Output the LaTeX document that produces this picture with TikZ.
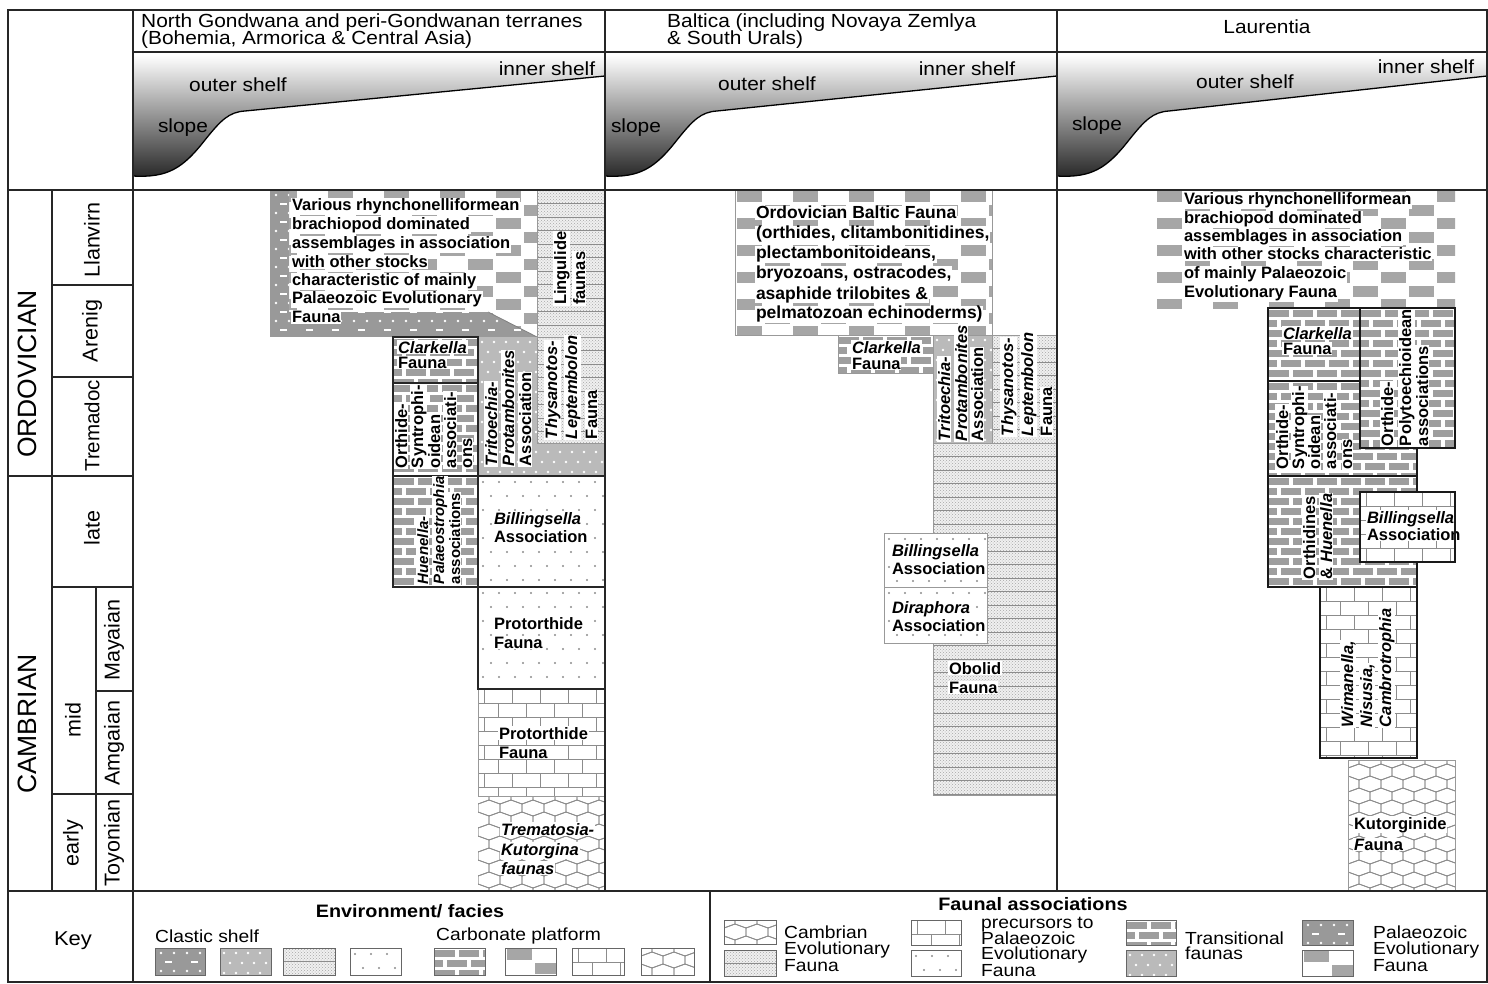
\documentclass[tikz,border=0pt]{standalone}
\usepackage{fontspec}
\setmainfont{Liberation Sans}
\newfontfamily\wfont{Liberation Sans}[FakeStretch=1.1]
\usetikzlibrary{patterns}

% ---------- pattern fills (x1,y1,x2,y2 in px, y downwards) ----------
\newcommand\PBrickGray[4]{%
 \begin{scope}
 \clip (#1,#2) rectangle (#3,#4);
 \fill[white] (#1,#2) rectangle (#3,#4);
 \pgfmathtruncatemacro\NR{(#4-#2)/10+1}%
 \pgfmathtruncatemacro\NC{(#3-#1)/24+2}%
 \foreach \ii in {0,...,\NR}{\foreach \jj in {0,...,\NC}{%
  \fill[black!38] ({#1+\jj*24-mod(\ii,2)*12+1},{#2+\ii*10+2}) rectangle ++(20,7);}}
 \end{scope}}
\newcommand\PBrickWhite[4]{%
 \begin{scope}
 \clip (#1,#2) rectangle (#3,#4);
 \fill[white] (#1,#2) rectangle (#3,#4);
 \pgfmathtruncatemacro\NR{(#4-#2)/14+1}%
 \pgfmathtruncatemacro\NC{(#3-#1)/28+2}%
 \foreach \ii in {0,...,\NR}{%
  \draw[black!45, line width=0.9pt] (#1,{#2+\ii*14}) -- (#3,{#2+\ii*14});
  \foreach \jj in {0,...,\NC}{%
   \draw[black!45, line width=0.9pt] ({#1+\jj*28-mod(\ii,2)*14+6},{#2+\ii*14}) -- ++(0,14);}}
 \end{scope}}
\newcommand\PHex[4]{%
 \begin{scope}
 \clip (#1,#2) rectangle (#3,#4);
 \fill[white] (#1,#2) rectangle (#3,#4);
 \pgfmathtruncatemacro\NR{(#4-#2)/12+2}%
 \pgfmathtruncatemacro\NC{(#3-#1)/22+2}%
 \foreach \ii in {0,...,\NR}{\foreach \jj in {0,...,\NC}{%
  \draw[black!45, line width=0.8pt] ({#1+\jj*22-mod(\ii,2)*11},{#2+\ii*12-8}) -- ++(11,4) -- ++(0,8) -- ++(-11,4) -- ++(-11,-4) -- ++(0,-8) -- cycle;}}
 \end{scope}}
\newcommand\PDotsWhite[4]{%
 \begin{scope}
 \clip (#1,#2) rectangle (#3,#4);
 \fill[white] (#1,#2) rectangle (#3,#4);
 \pgfmathtruncatemacro\NR{(#4-#2)/14+1}%
 \pgfmathtruncatemacro\NC{(#3-#1)/16+1}%
 \foreach \ii in {0,...,\NR}{\foreach \jj in {0,...,\NC}{%
  \fill[black!45] ({#1+\jj*16+mod(\ii,2)*8+5},{#2+\ii*14+6}) circle (1.1);}}
 \end{scope}}
\newcommand\PDotsGray[4]{%
 \begin{scope}
 \clip (#1,#2) rectangle (#3,#4);
 \fill[black!27] (#1,#2) rectangle (#3,#4);
 \pgfmathtruncatemacro\NR{(#4-#2)/10+1}%
 \pgfmathtruncatemacro\NC{(#3-#1)/12+1}%
 \foreach \ii in {0,...,\NR}{\foreach \jj in {0,...,\NC}{%
  \fill[white] ({#1+\jj*12+mod(\ii,2)*6+4},{#2+\ii*10+5}) circle (1.3);}}
 \end{scope}}
\newcommand\PDotsDark[4]{%
 \begin{scope}
 \clip (#1,#2) rectangle (#3,#4);
 \fill[black!40] (#1,#2) rectangle (#3,#4);
 \pgfmathtruncatemacro\NR{(#4-#2)/9+1}%
 \pgfmathtruncatemacro\NC{(#3-#1)/13+1}%
 \foreach \ii in {0,...,\NR}{\foreach \jj in {0,...,\NC}{%
  \pgfmathtruncatemacro\pp{mod(\ii,2)}%
  \ifnum\pp=0
   \fill[white] ({#1+\jj*13+6},{#2+\ii*9+5}) circle (1.3);
  \else
   \ifodd\jj\else
    \fill[white] ({#1+\jj*13+10},{#2+\ii*9+4.2}) rectangle ++(7,1.7);
   \fi
  \fi}}
 \end{scope}}
\newcommand\PStipple[4]{%
 \begin{scope}
 \clip (#1,#2) rectangle (#3,#4);
 \fill[black!6] (#1,#2) rectangle (#3,#4);
 \fill[pattern=crosshatch dots, pattern color=black!35] (#1,#2) rectangle (#3,#4);
 \pgfmathtruncatemacro\NR{(#4-#2)/13.5+1}%
 \foreach \ii in {1,...,\NR}{%
  \draw[black!45, line width=0.9pt] (#1,{#2+\ii*13.5}) -- (#3,{#2+\ii*13.5});}
 \end{scope}}
\newcommand\PChecker[4]{%
 \begin{scope}
 \clip (#1,#2) rectangle (#3,#4);
 \fill[white] (#1,#2) rectangle (#3,#4);
 \pgfmathtruncatemacro\NR{(#4-#2)/13.5+1}%
 \pgfmathtruncatemacro\NC{(#3-#1)/56+1}%
 \foreach \ii in {0,...,\NR}{\foreach \jj in {0,...,\NC}{%
  \fill[black!35] ({#1+\jj*56+mod(\ii,2)*28+1.5},{#2+\ii*13.5+1.2}) rectangle ++(25,11);}}
 \end{scope}}
\newcommand\Profile[2]{%
 \shade[top color=white, middle color=black!22, bottom color=black!85]
  (#1,55) -- (#1,176) .. controls ({#1+35},178) and ({#1+50},168) .. ({#1+72},140)
  .. controls ({#1+88},120) and ({#1+96},112) .. ({#1+112},111) -- (#2,76) -- (#2,55) -- cycle;
 \draw[line width=1.3pt] (#1,176) .. controls ({#1+35},178) and ({#1+50},168) .. ({#1+72},140)
  .. controls ({#1+88},120) and ({#1+96},112) .. ({#1+112},111) -- (#2,76);}

\tikzset{
 frame/.style={draw=black!85, line width=1.4pt},
 bx/.style={draw=black!85, line width=1.3pt},
 bxl/.style={draw=black!90, line width=1.6pt},
 bxg/.style={draw=black!40, line width=1pt},
 sw/.style={draw=black!60, line width=0.8pt},
 bt/.style={font=\bfseries\fontsize{16.5}{18}\selectfont, anchor=base west, inner sep=0.8pt, fill=white},
 bti/.style={bt, font=\bfseries\itshape\fontsize{16.5}{18}\selectfont},
 btb/.style={bt, font=\bfseries\fontsize{17.5}{20}\selectfont},
 rt/.style={bt, rotate=90},
 rti/.style={bti, rotate=90},
 rts/.style={bt, font=\bfseries\fontsize{15}{16}\selectfont, rotate=90},
 rtsi/.style={bt, font=\bfseries\itshape\fontsize{15}{16}\selectfont, rotate=90},
 hd/.style={font=\wfont\fontsize{19}{21}\selectfont, anchor=base west, inner sep=0pt},
 pl/.style={font=\wfont\fontsize{19}{21}\selectfont, anchor=base, inner sep=0pt},
 tl/.style={font=\fontsize{21.5}{24}\selectfont, rotate=90, inner sep=0pt},
 sy/.style={font=\fontsize{26.5}{28}\selectfont, rotate=90, inner sep=0pt},
 kh/.style={font=\wfont\bfseries\fontsize{18}{20}\selectfont, anchor=base, inner sep=0pt},
 kl/.style={font=\wfont\fontsize{17.5}{19}\selectfont, anchor=base west, inner sep=0pt},
}

\begin{document}
\begin{tikzpicture}[x=1pt,y=-1pt]
\useasboundingbox (0,0) rectangle (1488,984);
\fill[white] (0,0) rectangle (1488,984);

% ---------- shelf profiles ----------
\Profile{133}{605}
\Profile{605}{1057}
\Profile{1057}{1487}

% ---------- North Gondwana ----------
\PChecker{270}{190}{537}{337}
\begin{scope}
 \clip (270,190) -- (289,190) -- (289,312) -- (488,312) -- (537,337) -- (270,337) -- cycle;
 \PDotsDark{270}{190}{537}{337}
\end{scope}
\draw[black!50, line width=0.8pt] (488,312) -- (537,337);
\PStipple{537}{190}{605}{337}
\draw[bxg] (537,190) rectangle (605,337);
\PDotsGray{478}{337}{605}{476}
\PStipple{537}{337}{605}{443}
\draw[bxg] (537,337) rectangle (605,443);
\PBrickGray{393}{337}{478}{383}
\PBrickGray{393}{383}{478}{476}
\PBrickGray{393}{476}{478}{587}
\PDotsWhite{478}{476}{605}{587}
\PDotsWhite{478}{587}{605}{689}
\PBrickWhite{478}{689}{605}{796}
\PHex{478}{796}{605}{890}
\draw[bxg] (478,689) rectangle (605,796);
\draw[bx] (393,337) rectangle (478,383);
\draw[bx] (393,383) rectangle (478,476);
\draw[bx] (393,476) rectangle (478,587);
\draw[bx] (478,476) rectangle (605,587);
\draw[bx] (478,587) rectangle (605,689);
\draw[bx] (478,337) -- (478,476);

% ---------- Baltica ----------
\PChecker{735}{190}{992}{335}
\draw[bxg] (735,190) rectangle (992,335);
\PBrickGray{838}{335}{933}{373}
\draw[bxg] (838,335) rectangle (933,373);
\PDotsGray{933}{335}{992}{443}
\draw[bxg] (933,335) rectangle (992,443);
\PStipple{992}{335}{1057}{443}
\draw[bxg] (992,335) rectangle (1057,443);
\PStipple{933}{443}{1057}{795}
\draw[bxg] (933,443) rectangle (1057,795);
\PDotsWhite{884}{533}{987}{587}
\draw[bxg] (884,533) rectangle (987,587);
\PDotsWhite{884}{587}{987}{643}
\draw[bxg] (884,587) rectangle (987,643);

% ---------- Laurentia ----------
\PChecker{1155}{190}{1455}{308}
\PBrickGray{1268}{381}{1417}{476}
\draw[bxl] (1268,381) rectangle (1417,476);
\PBrickGray{1268}{308}{1360}{381}
\draw[bxl] (1268,308) rectangle (1360,381);
\PBrickGray{1360}{308}{1455}{448}
\draw[bxl] (1360,308) rectangle (1455,448);
\PBrickGray{1268}{476}{1417}{587}
\draw[bxl] (1268,476) rectangle (1417,587);
\PBrickWhite{1360}{492}{1455}{562}
\draw[bxl] (1360,492) rectangle (1455,562);
\PBrickWhite{1320}{587}{1417}{758}
\draw[bxl] (1320,587) rectangle (1417,758);
\PHex{1348}{760}{1455}{890}
\draw[bxg] (1348,760) rectangle (1455,890);

% ---------- key swatches ----------
\PDotsDark{155}{948}{205}{975}   \draw[sw] (155,948) rectangle (205,975);
\PDotsGray{220}{948}{271}{975}   \draw[sw] (220,948) rectangle (271,975);
\PStipple{283}{948}{335}{975}    \draw[sw] (283,948) rectangle (335,975);
\PDotsWhite{350}{948}{401}{975}  \draw[sw] (350,948) rectangle (401,975);
\PBrickGray{434}{948}{485}{975}  \draw[sw] (434,948) rectangle (485,975);
\PChecker{505}{948}{556}{975}    \draw[sw] (505,948) rectangle (556,975);
\PBrickWhite{572}{948}{624}{975} \draw[sw] (572,948) rectangle (624,975);
\PHex{641}{948}{694}{975}        \draw[sw] (641,948) rectangle (694,975);
\PHex{724}{920}{776}{944}          \draw[sw] (724,920) rectangle (776,944);
\PStipple{724}{950}{776}{976}      \draw[sw] (724,950) rectangle (776,976);
\PBrickWhite{911}{920}{961}{945}   \draw[sw] (911,920) rectangle (961,945);
\PDotsWhite{911}{950}{961}{976}    \draw[sw] (911,950) rectangle (961,976);
\PBrickGray{1126}{920}{1176}{945}  \draw[sw] (1126,920) rectangle (1176,945);
\PDotsGray{1126}{950}{1176}{976}   \draw[sw] (1126,950) rectangle (1176,976);
\PDotsDark{1302}{920}{1353}{945}   \draw[sw] (1302,920) rectangle (1353,945);
\PChecker{1302}{950}{1353}{976}    \draw[sw] (1302,950) rectangle (1353,976);

% ---------- grid ----------
\draw[frame] (8,10) rectangle (1487,982);
\draw[frame] (133,10) -- (133,982);
\draw[frame] (605,10) -- (605,891);
\draw[frame] (1057,10) -- (1057,891);
\draw[frame] (133,52) -- (1487,52);
\draw[frame] (8,190) -- (1487,190);
\draw[frame] (8,891) -- (1487,891);
\draw[frame] (710,891) -- (710,982);
\draw[frame] (52,190) -- (52,891);
\draw[frame] (96,587) -- (96,891);
\draw[frame] (52,285) -- (133,285);
\draw[frame] (52,377) -- (133,377);
\draw[frame] (8,476) -- (133,476);
\draw[frame] (52,587) -- (133,587);
\draw[frame] (96,691) -- (133,691);
\draw[frame] (52,794) -- (133,794);

% ---------- headers ----------
\node[hd] (t1a) at (141,28) {North Gondwana and peri-Gondwanan terranes};
\node[hd] (t1b) at (141,45) {(Bohemia, Armorica \& Central Asia)};
\node[hd] (t2a) at (667,28) {Baltica (including Novaya Zemlya};
\node[hd] (t2b) at (667,45) {\& South Urals)};
\node[pl] (t3) at (1267,34) {Laurentia};
\node[pl] (o1) at (238,92) {outer shelf};
\node[pl] (i1) at (547,76) {inner shelf};
\node[pl] (s1) at (183,133) {slope};
\node[pl] (o2) at (767,91) {outer shelf};
\node[pl] (i2) at (967,76) {inner shelf};
\node[pl] (s2) at (636,133) {slope};
\node[pl] (o3) at (1245,89) {outer shelf};
\node[pl] (i3) at (1426,74) {inner shelf};
\node[pl] (s3) at (1097,131) {slope};

% ---------- time scale ----------
\node[sy] (ordo) at (27,374) {ORDOVICIAN};
\node[sy] (camb) at (27,724) {CAMBRIAN};
\node[tl] (llan) at (92,240) {Llanvirn};
\node[tl] (aren) at (92,331) {Arenig};
\node[tl, font=\fontsize{20.5}{22}\selectfont] (trem) at (92,426) {Tremadoc};
\node[tl] (late) at (92,528) {late};
\node[tl] (mid) at (73,720) {mid};
\node[tl] (early) at (73,843) {early};
\node[tl] (maya) at (114,640) {Mayaian};
\node[tl] (amga) at (114,743) {Amgaian};
\node[tl] (toyo) at (114,843) {Toyonian};

% ---------- North Gondwana texts ----------
\node[bt] (ga1) at (291,211) {Various rhynchonelliformean};
\node[bt] (ga2) at (291,230) {brachiopod dominated};
\node[bt] (ga3) at (291,249) {assemblages in association};
\node[bt] (ga4) at (291,268) {with other stocks};
\node[bt] (ga5) at (291,286) {characteristic of mainly};
\node[bt] (ga6) at (291,304) {Palaeozoic Evolutionary};
\node[bt] (ga7) at (291,323) {Fauna};
\node[rt] (gl1) at (566,306) {Lingulide};
\node[rt] (gl2) at (585,306) {faunas};
\node[rti] (gy1) at (557,440) {Thysanotos-};
\node[rti] (gy2) at (577,440) {Leptembolon};
\node[rt] (gy3) at (597,440) {Fauna};
\node[rti] (gt1) at (497,467) {Tritoechia-};
\node[rti] (gt2) at (514,467) {Protambonites};
\node[rt] (gt3) at (531,467) {Association};
\node[bti] (gc1) at (397,353) {Clarkella};
\node[bt] (gc2) at (397,368) {Fauna};
\node[rt] (gs1) at (407,469) {Orthide-};
\node[rt] (gs2) at (423,469) {Syntrophi-};
\node[rt] (gs3) at (440,469) {oidean};
\node[rt] (gs4) at (456,469) {associati-};
\node[rt] (gs5) at (472,469) {ons};
\node[rtsi] (gh1) at (428,585) {Huenella-};
\node[rtsi] (gh2) at (444,585) {Palaeostrophia};
\node[rts] (gh3) at (460,585) {associations};
\node[bti] (gb1) at (493,524) {Billingsella};
\node[bt] (gb2) at (493,542) {Association};
\node[bt] (gp1) at (493,629) {Protorthide};
\node[bt] (gp2) at (493,648) {Fauna};
\node[bt] (gq1) at (498,739) {Protorthide};
\node[bt] (gq2) at (498,758) {Fauna};
\node[bti] (gk1) at (500,835) {Trematosia-};
\node[bti] (gk2) at (500,855) {Kutorgina};
\node[bti] (gk3) at (500,874) {faunas};

% ---------- Baltica texts ----------
\node[btb] (ba1) at (755,219) {Ordovician Baltic Fauna};
\node[btb] (ba2) at (755,239) {(orthides, clitambonitidines,};
\node[btb] (ba3) at (755,259) {plectambonitoideans,};
\node[btb] (ba4) at (755,279) {bryozoans, ostracodes,};
\node[btb] (ba5) at (755,299) {asaphide trilobites \&};
\node[btb] (ba6) at (755,319) {pelmatozoan echinoderms)};
\node[bti] (bc1) at (851,353) {Clarkella};
\node[bt] (bc2) at (851,369) {Fauna};
\node[rti] (bt1) at (950,442) {Tritoechia-};
\node[rti] (bt2) at (967,442) {Protambonites};
\node[rt] (bt3) at (983,442) {Association};
\node[rti] (by1) at (1013,437) {Thysanotos-};
\node[rti] (by2) at (1033,437) {Leptembolon};
\node[rt] (by3) at (1052,437) {Fauna};
\node[bti] (bb1) at (891,556) {Billingsella};
\node[bt] (bb2) at (891,574) {Association};
\node[bti] (bd1) at (891,613) {Diraphora};
\node[bt] (bd2) at (891,631) {Association};
\node[bt] (bo1) at (948,674) {Obolid};
\node[bt] (bo2) at (948,693) {Fauna};

% ---------- Laurentia texts ----------
\node[bt] (la1) at (1183,205) {Various rhynchonelliformean};
\node[bt] (la2) at (1183,224) {brachiopod dominated};
\node[bt] (la3) at (1183,242) {assemblages in association};
\node[bt] (la4) at (1183,260) {with other stocks characteristic};
\node[bt] (la5) at (1183,279) {of mainly Palaeozoic};
\node[bt] (la6) at (1183,298) {Evolutionary Fauna};
\node[bti] (lc1) at (1282,339) {Clarkella};
\node[bt] (lc2) at (1282,354) {Fauna};
\node[rt] (lp1) at (1393,447) {Orthide-};
\node[rt] (lp2) at (1411,447) {Polytoechioidean};
\node[rt] (lp3) at (1428,447) {associations};
\node[rt] (ls1) at (1288,470) {Orthide-};
\node[rt] (ls2) at (1304,470) {Syntrophi-};
\node[rt] (ls3) at (1320,470) {oidean};
\node[rt] (ls4) at (1336,470) {associati-};
\node[rt] (ls5) at (1352,470) {ons};
\node[rt] (lh1) at (1315,580) {Orthidines};
\node[rt] (lh2) at (1332,580) {\& \textit{Huenella}};
\node[bti] (lb1) at (1366,523) {Billingsella};
\node[bt] (lb2) at (1366,540) {Association};
\draw[bxl] (1455,492) -- (1455,562);
\node[rti] (lw1) at (1353,728) {Wimanella,};
\node[rti] (lw2) at (1372,728) {Nisusia,};
\node[rti] (lw3) at (1391,728) {Cambrotrophia};
\node[bt] (lk1) at (1353,829) {Kutorginide};
\node[bt] (lk2) at (1353,850) {\textit{F}auna};

% ---------- key texts ----------
\node[font=\wfont\fontsize{20}{22}\selectfont, anchor=base, inner sep=0pt] (key) at (73,945) {Key};
\node[kh] (envh) at (410,917) {Environment/ facies};
\node[kh] (fauh) at (1033,910) {Faunal associations};
\node[kl] (clas) at (155,942) {Clastic shelf};
\node[kl] (carb) at (436,940) {Carbonate platform};
\node[kl] (k1a) at (784,938) {Cambrian};
\node[kl] (k1b) at (784,954) {Evolutionary};
\node[kl] (k1c) at (784,971) {Fauna};
\node[kl] (k2a) at (981,928) {precursors to};
\node[kl] (k2b) at (981,944) {Palaeozoic};
\node[kl] (k2c) at (981,959) {Evolutionary};
\node[kl] (k2d) at (981,976) {Fauna};
\node[kl] (k3a) at (1185,944) {Transitional};
\node[kl] (k3b) at (1185,959) {faunas};
\node[kl] (k4a) at (1373,938) {Palaeozoic};
\node[kl] (k4b) at (1373,954) {Evolutionary};
\node[kl] (k4c) at (1373,971) {Fauna};
\end{tikzpicture}
\end{document}
